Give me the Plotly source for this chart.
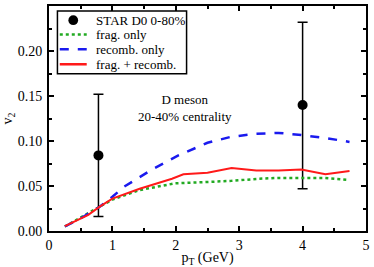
import plotly.graph_objects as go

# data
star_pt = [0.78, 4.0]
star_v2 = [0.084, 0.140]
star_err_up = [0.068, 0.092]
star_err_down = [0.068, 0.093]

recomb_pt = [0.25, 0.5, 0.8, 1.0, 1.18, 1.4, 1.64, 2.04, 2.5, 2.86, 3.27, 3.62, 3.98, 4.39, 4.74]
recomb_v2 = [0.005, 0.014, 0.027, 0.038, 0.049, 0.059, 0.069, 0.084, 0.098, 0.1045, 0.108, 0.109, 0.1066, 0.103, 0.099]

frag_pt = [0.25, 0.5, 0.8, 1.0, 1.43, 1.99, 2.5, 2.88, 3.3, 3.62, 3.98, 4.33, 4.69]
frag_v2 = [0.005, 0.015, 0.027, 0.035, 0.0455, 0.053, 0.0545, 0.0557, 0.058, 0.059, 0.059, 0.059, 0.057]

both_pt = [0.25, 0.62, 0.80, 1.0, 1.43, 1.94, 2.12, 2.50, 2.88, 3.27, 3.62, 3.98, 4.36, 4.74]
both_v2 = [0.0055, 0.018, 0.027, 0.036, 0.047, 0.058, 0.063, 0.0648, 0.0699, 0.0673, 0.0673, 0.0684, 0.063, 0.0666]

series_names = ["STAR D0 0-80%", "frag. only", "recomb. only", "frag. + recomb."]

x_ticks = [0, 1, 2, 3, 4, 5]
y_ticks = [0.00, 0.05, 0.10, 0.15, 0.20, 0.25]
y_tick_labels = ["0.00", "0.05", "0.10", "0.15", "0.20", "0.25"]

font = "Liberation Serif, Times New Roman, serif"
GREEN, BLUE, RED = "#22aa22", "#1a1aee", "#ff1a1a"

fig = go.Figure()
fig.add_trace(go.Scatter(
    x=star_pt, y=star_v2, mode="markers", name=series_names[0],
    marker=dict(color="black", size=10),
    error_y=dict(type="data", symmetric=False, array=star_err_up, arrayminus=star_err_down,
                 color="black", thickness=1.5, width=5),
))
fig.add_trace(go.Scatter(
    x=frag_pt, y=frag_v2, mode="lines", name=series_names[1],
    line=dict(color=GREEN, width=2.5, dash="dot"),
))
fig.add_trace(go.Scatter(
    x=recomb_pt, y=recomb_v2, mode="lines", name=series_names[2],
    line=dict(color=BLUE, width=2.5, dash="dash"),
))
fig.add_trace(go.Scatter(
    x=both_pt, y=both_v2, mode="lines", name=series_names[3],
    line=dict(color=RED, width=2),
))

axis_common = dict(
    showgrid=False, zeroline=False, showline=True, linecolor="black", linewidth=2,
    mirror="ticks", ticks="inside", ticklen=5, tickwidth=1.5, tickcolor="black",
    tickfont=dict(family=font, size=14, color="black"),
)

fig.update_xaxes(
    range=[0, 5], tickvals=x_ticks,
    minor=dict(ticks="inside", ticklen=3, tickwidth=1.5, tickcolor="black", dtick=0.5),
    title=dict(text="p<sub>T</sub> (GeV)", font=dict(family=font, size=14, color="black"), standoff=0),
    **axis_common,
)
fig.update_yaxes(
    range=[0, 0.25], tickvals=y_ticks, ticktext=y_tick_labels,
    minor=dict(ticks="inside", ticklen=3, tickwidth=1.5, tickcolor="black", dtick=0.025),
    title=dict(text="v<sub>2</sub>", font=dict(family=font, size=14, color="black"), standoff=4),
    ticklabelstandoff=2,
    **axis_common,
)

fig.add_annotation(x=0.428, y=0.546, xref="paper", yref="paper",
                   text="D meson<br>20-40% centrality", showarrow=False,
                   font=dict(family=font, size=13, color="black"), align="center")

# hand-built legend (box, samples, labels) to match the compact original
L = dict(xref="paper", yref="paper")
fig.add_shape(type="rect", x0=0.0266, x1=0.434, y0=0.699, y1=0.978,
              line=dict(color="black", width=1.5), fillcolor="white", layer="above", **L)
row_y = [0.937, 0.873, 0.808, 0.741]
sx0, sx1 = 0.034, 0.119
fig.add_shape(type="circle", x0=0.0765 - 0.0153, x1=0.0765 + 0.0153,
              y0=row_y[0] - 0.0218, y1=row_y[0] + 0.0218,
              line=dict(color="black", width=0), fillcolor="black", layer="above", **L)
fig.add_shape(type="line", x0=sx0, x1=sx1, y0=row_y[1], y1=row_y[1],
              line=dict(color=GREEN, width=2.5, dash="dot"), layer="above", **L)
fig.add_shape(type="line", x0=sx0, x1=sx1, y0=row_y[2], y1=row_y[2],
              line=dict(color=BLUE, width=2.5, dash="dash"), layer="above", **L)
fig.add_shape(type="line", x0=sx0, x1=sx1, y0=row_y[3], y1=row_y[3],
              line=dict(color=RED, width=2.5), layer="above", **L)
for name, yy in zip(series_names, row_y):
    fig.add_annotation(x=0.142, y=yy, text=name, showarrow=False, xanchor="left", yanchor="middle",
                       font=dict(family=font, size=13, color="black"), **L)

fig.update_layout(
    width=374, height=267,
    margin=dict(l=43, r=4, t=6, b=32),
    paper_bgcolor="white", plot_bgcolor="white",
    showlegend=False,
)

fig.write_html("out.html", config={"displayModeBar": False},
               post_script="document.body.style.margin='0';")
